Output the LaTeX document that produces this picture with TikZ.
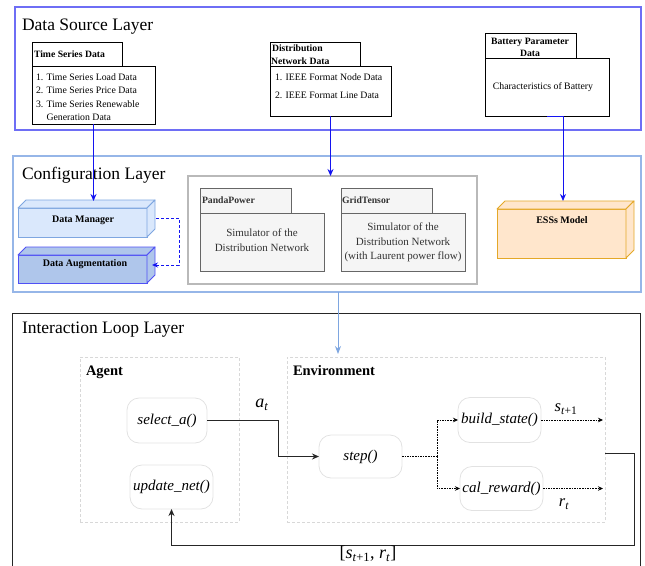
\documentclass[tikz,border=0pt]{standalone}
\usepackage{fontspec}
\setmainfont{Liberation Serif}
\usetikzlibrary{arrows.meta,calc}
\definecolor{srcblue}{RGB}{110,110,245}
\definecolor{cfgblue}{RGB}{150,182,232}
\definecolor{arrblue}{RGB}{20,20,240}
\definecolor{dmfill}{RGB}{218,232,252}
\definecolor{dmdraw}{RGB}{126,166,224}
\definecolor{augfill}{RGB}{175,198,235}
\definecolor{augdraw}{RGB}{80,80,245}
\definecolor{essfill}{RGB}{255,230,204}
\definecolor{essdraw}{RGB}{228,168,40}
\definecolor{pkgfill}{RGB}{245,245,245}
\definecolor{pkgdraw}{RGB}{102,102,102}
\definecolor{pkgtext}{RGB}{51,51,51}
\definecolor{simgray}{RGB}{185,185,185}
\definecolor{dashgray}{RGB}{216,216,216}
\definecolor{rndgray}{RGB}{226,226,226}
\definecolor{ltarrow}{RGB}{126,166,224}
\begin{document}
\begin{tikzpicture}[x=1pt,y=-1pt,
  every node/.style={inner sep=0pt,outer sep=0pt},
  layertitle/.style={font=\fontsize{17.5}{20}\selectfont,anchor=base west},
  small/.style={font=\fontsize{9.8}{12}\selectfont},
  smallb/.style={font=\fontsize{9.7}{12}\selectfont\bfseries},
  simtext/.style={font=\fontsize{11}{14.5}\selectfont,align=center},
  pkgbox/.style={draw=black,fill=white,line width=0.8pt,anchor=north west},
  grpkg/.style={draw=pkgdraw,fill=pkgfill,line width=0.8pt,anchor=north west},
  fn/.style={draw=rndgray,rounded corners=12pt,line width=0.8pt,font=\fontsize{15}{17}\selectfont\itshape},
  grp/.style={draw=dashgray,dash pattern=on 3pt off 2pt,line width=1pt,anchor=north west},
  grplabel/.style={font=\fontsize{14.5}{17}\selectfont\bfseries,anchor=base west},
  blarrow/.style={draw=arrblue,line width=1pt,-{Stealth[length=7pt,width=6pt]}},
  flow/.style={draw=black!85,line width=1pt,-{Stealth[length=7pt,width=6pt]}},
  dflow/.style={draw=black,line width=0.8pt,dash pattern=on 1.6pt off 1pt,-{Stealth[length=5pt,width=4.5pt]}},
  mlabel/.style={font=\fontsize{18}{20}\selectfont},
  slabel/.style={font=\fontsize{16.5}{18}\selectfont}
]
\useasboundingbox (0,0) rectangle (645,565);

% ---------------- Data Source Layer ----------------
\node[draw=srcblue,line width=1.6pt,anchor=north west,minimum width=626pt,minimum height=123pt] (src) at (15,7) {};
\node[layertitle] (srct) at (22,30) {Data Source Layer};

% Time Series Data package
\node[pkgbox,minimum width=90pt,minimum height=24pt] (tstab) at (32,42) {};
\node[pkgbox,minimum width=123pt,minimum height=58pt] (ts) at (32,66) {};
\node[smallb,anchor=west] (tstt) at (34,54) {Time Series Data};
\node[small,anchor=base west] (ts1) at (36,80.5) {1. Time Series Load Data};
\node[small,anchor=base west] (ts2) at (36,93.5) {2. Time Series Price Data};
\node[small,anchor=base west] (ts3) at (36,107) {3. Time Series Renewable};
\node[small,anchor=base west] (ts4) at (46.5,120) {Generation Data};

% Distribution Network Data package
\node[pkgbox,minimum width=90pt,minimum height=24pt] (dntab) at (270,42) {};
\node[pkgbox,minimum width=121pt,minimum height=50pt] (dn) at (270,66) {};
\node[smallb,anchor=base west] (dnt1) at (272,51.5) {Distribution};
\node[smallb,anchor=base west] (dnt2) at (271,64) {Network Data};
\node[small,anchor=base west] (dn1) at (275,80.5) {1. IEEE Format Node Data};
\node[small,anchor=base west] (dn2) at (275,98) {2. IEEE Format Line Data};

% Battery Parameter Data package
\node[pkgbox,minimum width=91pt,minimum height=25pt] (bttab) at (485,33) {};
\node[pkgbox,minimum width=124pt,minimum height=58pt] (bt) at (485,58) {};
\node[align=center,font=\fontsize{9.7}{12}\selectfont\bfseries] (btt) at (530,47) {Battery Parameter\\Data};
\node[small] (bt1) at (543,87) {Characteristics of Battery};

% ---------------- Configuration Layer ----------------
\node[draw=cfgblue,line width=1.3pt,anchor=north west,minimum width=628pt,minimum height=136pt] (cfg) at (13,156) {};
\node[layertitle] (cfgt) at (22,179) {Configuration Layer};

% Data Manager cube
\node[draw=dmdraw,fill=dmfill,line width=0.9pt,anchor=south west,minimum width=129pt,minimum height=29pt] (dm) at (18,237) {};
\filldraw[draw=dmdraw,fill=dmfill,line width=0.9pt,line join=round] (dm.north west) -- ++(8,-8) -- ++(129,0) -- ++(-8,8) -- cycle;
\filldraw[draw=dmdraw,fill=dmfill,line width=0.9pt,line join=round] (dm.north east) -- ++(8,-8) -- ++(0,29) -- (dm.south east) -- cycle;
\node[font=\fontsize{10}{12}\selectfont\bfseries] (dml) at (83,220.5) {Data Manager};

% Data Augmentation cube
\node[draw=augdraw,fill=augfill,line width=0.9pt,anchor=south west,minimum width=129pt,minimum height=28pt] (aug) at (18,283) {};
\filldraw[draw=augdraw,fill=augfill,line width=0.9pt,line join=round] (aug.north west) -- ++(8,-8) -- ++(129,0) -- ++(-8,8) -- cycle;
\filldraw[draw=augdraw,fill=augfill,line width=0.9pt,line join=round] (aug.north east) -- ++(8,-8) -- ++(0,28) -- (aug.south east) -- cycle;
\node[font=\fontsize{10}{12}\selectfont\bfseries] (augl) at (85,264.5) {Data Augmentation};

% Simulator container
\node[draw=simgray,line width=1.5pt,fill=white,anchor=north west,minimum width=289pt,minimum height=108pt] (sim) at (188,176) {};
\node[grpkg,minimum width=91pt,minimum height=25pt] (pptab) at (200,188) {};
\node[grpkg,minimum width=124pt,minimum height=58pt] (pp) at (200,213) {};
\node[smallb,anchor=west,text=pkgtext] (ppt) at (202,200.5) {PandaPower};
\node[simtext,text=pkgtext] (ppb) at (262,240) {Simulator of the\\Distribution Network};
\node[grpkg,minimum width=91pt,minimum height=25pt] (gttab) at (341,188) {};
\node[grpkg,minimum width=124pt,minimum height=58pt] (gt) at (341,213) {};
\node[smallb,anchor=west,text=pkgtext] (gtt) at (342,200.5) {GridTensor};
\node[simtext,text=pkgtext] (gtb) at (403,242.5) {Simulator of the\\Distribution Network\\(with Laurent power flow)};

% ESSs Model cube
\node[draw=essdraw,fill=essfill,line width=0.9pt,anchor=south west,minimum width=129pt,minimum height=49pt] (ess) at (497,258) {};
\filldraw[draw=essdraw,fill=essfill,line width=0.9pt,line join=round] (ess.north west) -- ++(8,-8) -- ++(129,0) -- ++(-8,8) -- cycle;
\filldraw[draw=essdraw,fill=essfill,line width=0.9pt,line join=round] (ess.north east) -- ++(8,-8) -- ++(0,49) -- (ess.south east) -- cycle;
\node[font=\fontsize{10}{12}\selectfont\bfseries] (essl) at (562,220) {ESSs Model};

% arrows from data source layer
\coordinate (dmtop) at (0,201);
\coordinate (esx) at (563,0);
\draw[blarrow] (ts.south) -- (ts.south |- dmtop);
\draw[blarrow] (dn.south) -- (dn.south |- sim.north);
\draw[blarrow] (bt.south) -- (bt.south -| esx) -- (esx |- dmtop);
% dashed blue arrow
\coordinate (dbx) at (179,0);
\coordinate (dmr) at (156,218);
\coordinate (augr) at (152,265);
\draw[draw=arrblue,line width=0.9pt,dash pattern=on 3pt off 2pt,-{Stealth[length=6pt,width=5pt]}] (dmr) -- (dmr -| dbx) |- (augr);

% ---------------- Interaction Loop Layer ----------------
\node[draw=black!85,line width=1pt,anchor=north west,minimum width=628pt,minimum height=300pt] (ill) at (12,313) {};
\node[layertitle] (illt) at (22,333) {Interaction Loop Layer};

\node[grp,minimum width=159pt,minimum height=165pt] (agent) at (80,357) {};
\node[grplabel] (agentl) at (86,375) {Agent};
\node[grp,minimum width=318pt,minimum height=165pt] (env) at (287,357) {};
\node[grplabel] (envl) at (293,375) {Environment};

\node[fn,minimum width=80pt,minimum height=45pt] (sel) at (167,420.5) {select\_a()};
\node[fn,minimum width=83pt,minimum height=44pt] (upd) at (171.5,487) {update\_net()};
\node[fn,minimum width=83pt,minimum height=43pt] (stp) at (360.5,456.5) {step()};
\node[fn,minimum width=83pt,minimum height=45pt] (bs) at (499.5,420) {build\_state()};
\node[fn,minimum width=83pt,minimum height=44pt] (cr) at (501.5,488.5) {cal\_reward()};

% config -> environment
\coordinate (cx) at (338,0);
\draw[draw=ltarrow,line width=1pt,-{Stealth[length=8pt,width=6pt]},shorten >=3pt] (cfg.south -| cx) -- (env.north -| cx);

% select -> step
\coordinate (k1) at (278,0);
\draw[flow] (sel.east) -- (sel.east -| k1) |- (stp.west);
\node[mlabel] (atl) at (262,405) {\textit{a}\textsubscript{\textit{t}}};

% step -> build / cal
\coordinate (br) at (437,0);
\draw[draw=black,line width=0.8pt,dash pattern=on 1.6pt off 1pt] (stp.east) -- (stp.east -| br);
\draw[dflow] (stp.east -| br) |- (bs.west);
\draw[dflow] (stp.east -| br) |- (cr.west);
\coordinate (ex) at (603,0);
\draw[dflow] (bs.east) -- (bs.east -| ex);
\draw[dflow] (cr.east) -- (cr.east -| ex);
\node[slabel] (stl) at (566,409) {\textit{s}\textsubscript{\textit{t}+1}};
\node[slabel] (rtl) at (564,504) {\textit{r}\textsubscript{\textit{t}}};

% loop back
\coordinate (ls) at (605,453);
\coordinate (lr) at (634,453);
\coordinate (lb) at (634,545);
\draw[flow] (ls) -- (lr) -- (lb) -| (upd.south);
\node[mlabel] (fbl) at (368,554) {[\textit{s}\textsubscript{\textit{t}+1}, \textit{r}\textsubscript{\textit{t}}]};
\end{tikzpicture}
\end{document}
